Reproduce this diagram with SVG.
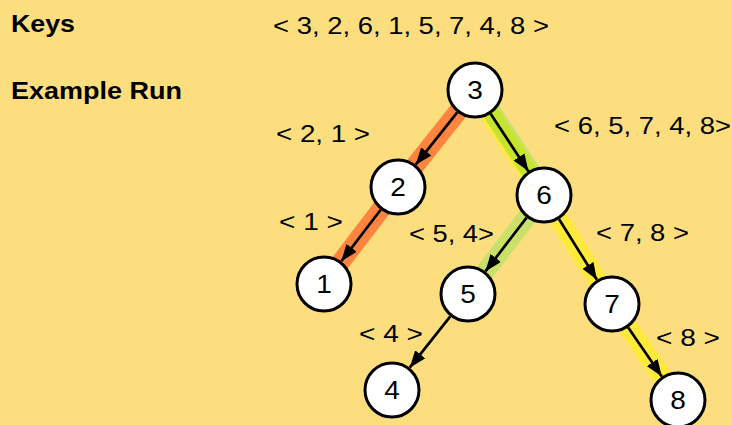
<svg xmlns="http://www.w3.org/2000/svg" width="732" height="425" viewBox="0 0 732 425">
  <style>
    .lbl { font-family: "Liberation Sans", Arial, sans-serif; font-size: 24px; fill: #000; }
    .hdr { font-family: "Liberation Sans", Arial, sans-serif; font-size: 24px; font-weight: bold; fill: #000; }
    .node circle { fill: #fff; stroke: #000; stroke-width: 3; }
    .node text { font-family: "Liberation Sans", Arial, sans-serif; font-size: 25px; fill: #000; text-anchor: middle; }
    .band { fill: none; stroke-linecap: butt; stroke-linejoin: round; }
    .orange { stroke: #FF8440; stroke-width: 19; }
    .yellow { stroke: #FFEA3A; stroke-width: 19; }
    .pale { stroke: #C9E16A; stroke-width: 19; }
    .lime { stroke: #C4E52C; stroke-width: 16; }
    .edge { stroke: #000; stroke-width: 2.7; fill: none; marker-end: url(#arrow); }
  </style>
  <defs>
    <marker id="arrow" markerUnits="userSpaceOnUse" viewBox="0 0 17 13" refX="17" refY="6.5" markerWidth="17" markerHeight="13" orient="auto">
      <path d="M0,0 L17,6.5 L0,13 z" fill="#000"/>
    </marker>
  </defs>
  <rect x="0" y="0" width="732" height="425" fill="#FDDE7F"/>

  <g id="headers">
    <text class="hdr" x="11" y="32" textLength="64" lengthAdjust="spacingAndGlyphs">Keys</text>
    <text class="hdr" x="11" y="99" textLength="171" lengthAdjust="spacingAndGlyphs">Example Run</text>
    <text class="lbl" x="273" y="34" textLength="276" lengthAdjust="spacingAndGlyphs">&lt; 3, 2, 6, 1, 5, 7, 4, 8 &gt;</text>
  </g>

  <g id="bands">
    <polyline class="band orange" points="475,90 398,187 324,284"/>
    <line class="band yellow" x1="474.2" y1="90.5" x2="543.2" y2="195.5"/>
    <line class="band pale" x1="476.7" y1="88.9" x2="545.7" y2="193.9"/>
    <line class="band lime" x1="475.4" y1="89.7" x2="544.4" y2="194.7"/>
    <line class="band pale" x1="544" y1="195" x2="468" y2="294"/>
    <polyline class="band yellow" points="544,195 612,304 678,400"/>
  </g>

  <g id="connectors">
    <line class="edge" x1="457.3" y1="112.3" x2="415.7" y2="164.7"/>
    <line class="edge" x1="380.7" y1="209.7" x2="341.3" y2="261.3"/>
    <line class="edge" x1="490.6" y1="113.8" x2="528.4" y2="171.2"/>
    <line class="edge" x1="526.6" y1="217.6" x2="485.4" y2="271.4"/>
    <line class="edge" x1="559.1" y1="219.2" x2="596.9" y2="279.8"/>
    <line class="edge" x1="450.3" y1="316.3" x2="409.7" y2="367.7"/>
    <line class="edge" x1="628.2" y1="327.5" x2="661.8" y2="376.5"/>
  </g>

  <g id="edge-labels">
    <text class="lbl" x="276" y="142" textLength="94" lengthAdjust="spacingAndGlyphs">&lt; 2, 1 &gt;</text>
    <text class="lbl" x="279" y="230" textLength="64" lengthAdjust="spacingAndGlyphs">&lt; 1 &gt;</text>
    <text class="lbl" x="409" y="242" textLength="85" lengthAdjust="spacingAndGlyphs">&lt; 5, 4&gt;</text>
    <text class="lbl" x="554" y="134" textLength="177" lengthAdjust="spacingAndGlyphs">&lt; 6, 5, 7, 4, 8&gt;</text>
    <text class="lbl" x="596" y="241" textLength="93" lengthAdjust="spacingAndGlyphs">&lt; 7, 8 &gt;</text>
    <text class="lbl" x="359" y="342" textLength="64" lengthAdjust="spacingAndGlyphs">&lt; 4 &gt;</text>
    <text class="lbl" x="656" y="346" textLength="64" lengthAdjust="spacingAndGlyphs">&lt; 8 &gt;</text>
  </g>

  <g id="node-3" class="node"><circle cx="475" cy="90" r="27"/><text transform="translate(475,99) scale(1.12,1)">3</text></g>
  <g id="node-2" class="node"><circle cx="398" cy="187" r="27"/><text transform="translate(398,196) scale(1.12,1)">2</text></g>
  <g id="node-6" class="node"><circle cx="544" cy="195" r="27"/><text transform="translate(544,204) scale(1.12,1)">6</text></g>
  <g id="node-1" class="node"><circle cx="324" cy="284" r="27"/><text transform="translate(324,293) scale(1.12,1)">1</text></g>
  <g id="node-5" class="node"><circle cx="468" cy="294" r="27"/><text transform="translate(468,303) scale(1.12,1)">5</text></g>
  <g id="node-7" class="node"><circle cx="612" cy="304" r="27"/><text transform="translate(612,313) scale(1.12,1)">7</text></g>
  <g id="node-4" class="node"><circle cx="392" cy="390" r="27"/><text transform="translate(392,399) scale(1.12,1)">4</text></g>
  <g id="node-8" class="node"><circle cx="678" cy="400" r="27"/><text transform="translate(678,409) scale(1.12,1)">8</text></g>
</svg>
